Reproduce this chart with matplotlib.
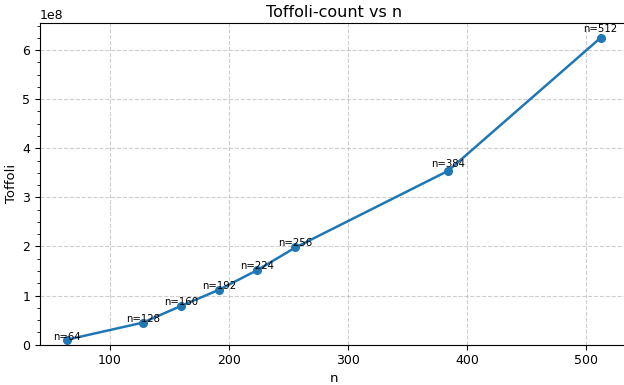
import matplotlib
matplotlib.use("Agg")
import matplotlib.pyplot as plt
from matplotlib.ticker import AutoMinorLocator

n_values = [64, 128, 160, 192, 224, 256, 384, 512]
toffoli = [0.10e8, 0.45e8, 0.79e8, 1.12e8, 1.52e8, 1.98e8, 3.54e8, 6.25e8]
labels = [f"n={n}" for n in n_values]

plt.rcParams.update({
    "xtick.labelsize": 9,
    "ytick.labelsize": 9,
    "axes.labelsize": 9.5,
    "axes.titlesize": 11.5,
})

fig, ax = plt.subplots(figsize=(6.24, 3.85), dpi=100)
ax.plot(n_values, toffoli, marker="o", color="#1f77b4", linewidth=1.8, markersize=5.5)
for x, y, lab in zip(n_values, toffoli, labels):
    ax.text(x, y * 1.02, lab, ha="center", fontsize=7.3)
ax.set_title("Toffoli-count vs n", pad=4)
ax.set_xlabel("n", labelpad=3)
ax.set_ylabel("Toffoli", labelpad=3)
ax.set_ylim(bottom=0)
ax.yaxis.set_minor_locator(AutoMinorLocator(4))
ax.grid(True, linestyle="--", alpha=0.6)
fig.subplots_adjust(left=0.064, right=1.0053, top=0.941, bottom=0.1047)
fig.savefig("out.png", dpi=100)
